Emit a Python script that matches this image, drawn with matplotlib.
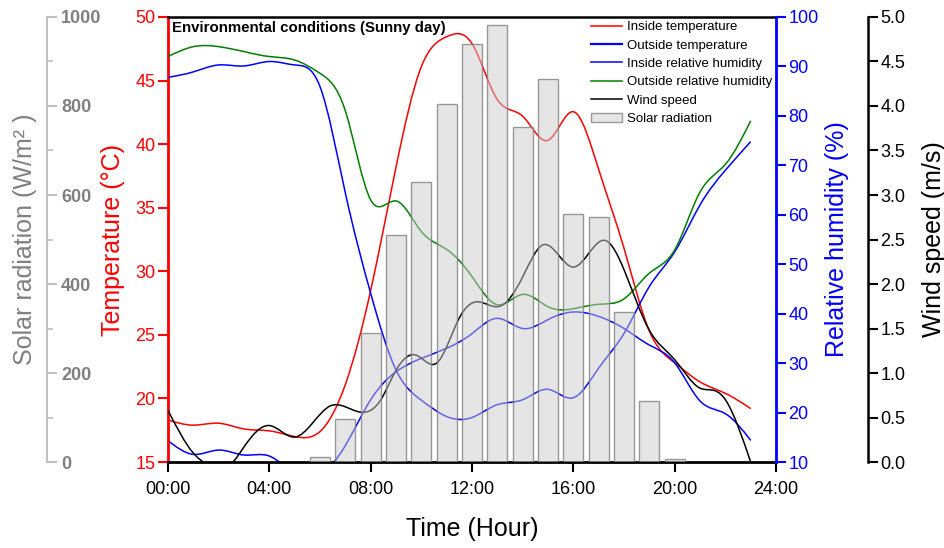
import matplotlib
matplotlib.use("Agg")
import matplotlib.pyplot as plt
import numpy as np
from matplotlib.path import Path
from matplotlib.patches import PathPatch, Patch
from matplotlib.lines import Line2D
from matplotlib.ticker import MultipleLocator, FormatStrFormatter

plt.rcParams['font.family'] = ['Liberation Sans', 'DejaVu Sans']

# hourly readings, 00:00 .. 23:00
hours = list(range(24))
inside_temp = [18.3, 17.9, 18.05, 17.6, 17.45, 17.0, 17.4, 21.1, 28.5, 38.2, 46.1, 48.45,
               47.9, 43.5, 42.2, 40.3, 42.55, 38.0, 31.8, 25.3, 22.8, 21.3, 20.4, 19.2]
outside_temp = [16.68, 15.6, 15.94, 15.55, 15.47, 14.1, 14.0, 16.3, 19.9, 22.1, 23.15, 23.95,
                25.1, 26.3, 25.5, 26.2, 26.8, 26.45, 25.5, 24.2, 22.8, 19.8, 18.8, 16.7]
inside_rh = [87.8, 88.9, 90.3, 90.1, 91.0, 90.3, 85.9, 64.4, 44.1, 28.6, 22.5, 19.2,
             19.0, 21.6, 22.6, 24.7, 23.0, 29.0, 36.0, 45.5, 52.5, 62.0, 69.0, 74.8]
outside_rh = [92.0, 94.0, 94.0, 93.0, 92.0, 91.3, 88.6, 81.0, 63.0, 62.8, 56.6, 53.0,
              47.5, 41.8, 43.9, 41.4, 41.0, 41.9, 43.0, 48.2, 52.9, 64.6, 70.2, 79.0]

# wind speed readings (irregular times)
wind_hours = [0, 1, 1.5, 2.5, 3, 4, 5, 6.4, 7.6, 8.4, 9, 9.8, 10.6, 11.5, 12.2, 13.1,
              14, 14.8, 16, 17.25, 18, 19, 20, 21, 21.6, 22, 22.5, 23]
wind_speed = [0.58, 0.10, -0.02, -0.02, 0.17, 0.41, 0.28, 0.63, 0.56, 0.70, 1.03, 1.20,
              1.11, 1.62, 1.80, 1.75, 2.08, 2.44, 2.19, 2.49, 2.16, 1.48, 1.15, 0.83,
              0.80, 0.70, 0.40, 0.0]

# solar radiation bars
solar_hours = [6, 7, 8, 9, 10, 11, 12, 13, 14, 15, 16, 17, 18, 19, 20]
solar_rad = [12, 96, 289, 510, 630, 804, 939, 983, 752, 861, 558, 551, 336, 138, 7]

xtick_vals = [0, 4, 8, 12, 16, 20, 24]
xtick_labels = ["00:00", "04:00", "08:00", "12:00", "16:00", "20:00", "24:00"]


def smooth_line(ax, x, y, color, lw=1.1):
    # natural cubic spline drawn as bezier curves through the data points
    x = np.asarray(x, float)
    y = np.asarray(y, float)
    n = len(x)
    h = np.diff(x)
    A = np.zeros((n, n))
    r = np.zeros(n)
    A[0, 0] = A[-1, -1] = 1
    for i in range(1, n - 1):
        A[i, i - 1] = h[i - 1]
        A[i, i] = 2 * (h[i - 1] + h[i])
        A[i, i + 1] = h[i]
        r[i] = 6 * ((y[i + 1] - y[i]) / h[i] - (y[i] - y[i - 1]) / h[i - 1])
    M = np.linalg.solve(A, r)
    m = np.zeros(n)
    m[:-1] = np.diff(y) / h - h * (2 * M[:-1] + M[1:]) / 6
    m[-1] = (y[-1] - y[-2]) / h[-1] + h[-1] * (M[-2] + 2 * M[-1]) / 6
    verts = [(x[0], y[0])]
    codes = [Path.MOVETO]
    for i in range(n - 1):
        verts += [(x[i] + h[i] / 3, y[i] + m[i] * h[i] / 3),
                  (x[i + 1] - h[i] / 3, y[i + 1] - m[i + 1] * h[i] / 3),
                  (x[i + 1], y[i + 1])]
        codes += [Path.CURVE4] * 3
    ax.add_patch(PathPatch(Path(verts, codes), fill=False, edgecolor=color, lw=lw))


fig = plt.figure(figsize=(9.45, 5.48), dpi=100)
ax = fig.add_axes([0.1778, 0.1569, 0.6434, 0.8121])
ax_rh = ax.twinx()
ax_w = ax.twinx()
ax_s = ax.twinx()

red, blue, green, gray = '#FF0000', '#0000FF', '#008000', '#808080'
tlen = 7

# temperature axis
smooth_line(ax, hours, inside_temp, red)
smooth_line(ax, hours, outside_temp, blue)
ax.set_xlim(0, 24)
ax.set_ylim(15, 50)
ax.set_xticks(xtick_vals)
ax.set_xticklabels(xtick_labels)
ax.set_yticks(range(15, 51, 5))
ax.tick_params(axis='x', direction='out', length=tlen, width=1.5, labelsize=13, pad=7)
ax.tick_params(axis='y', direction='out', length=tlen, width=1.5, labelsize=13,
               colors=red, pad=2)
ax.spines['left'].set_color(red)
ax.spines['left'].set_linewidth(2)
ax.spines['bottom'].set_linewidth(2)
ax.spines['top'].set_linewidth(1.8)
ax.spines['right'].set_visible(False)
ax.set_ylabel("Temperature (°C)", color=red, fontsize=18)
ax.yaxis.set_label_coords(-0.09, 0.5)
ax.yaxis.label.set_va('center')
ax.set_xlabel("Time (Hour)", fontsize=18)
ax.xaxis.set_label_coords(0.5, -0.15)
ax.xaxis.label.set_va('center')
ax.text(0.007, 0.99, "Environmental conditions (Sunny day)", transform=ax.transAxes,
        fontsize=10.8, fontweight='bold', va='top', ha='left')

# humidity axis
smooth_line(ax_rh, hours, inside_rh, blue)
smooth_line(ax_rh, hours, outside_rh, green)
ax_rh.set_ylim(10, 100)
ax_rh.set_yticks(range(10, 101, 10))
ax_rh.tick_params(axis='y', direction='out', length=tlen, width=1.5, labelsize=13,
                  colors=blue, pad=2)
ax_rh.spines['right'].set_color(blue)
ax_rh.spines['right'].set_linewidth(2)
for s in ['left', 'top', 'bottom']:
    ax_rh.spines[s].set_visible(False)
ax_rh.set_ylabel("Relative humidity (%)", color=blue, fontsize=18)
ax_rh.yaxis.set_label_coords(1.100, 0.5)
ax_rh.yaxis.label.set_va('center')

# wind axis
smooth_line(ax_w, wind_hours, wind_speed, 'black')
ax_w.set_ylim(0, 5)
ax_w.yaxis.set_major_locator(MultipleLocator(0.5))
ax_w.yaxis.set_major_formatter(FormatStrFormatter('%.1f'))
ax_w.spines['right'].set_position(('axes', 1.151))
ax_w.spines['right'].set_linewidth(1.8)
for s in ['left', 'top', 'bottom']:
    ax_w.spines[s].set_visible(False)
ax_w.tick_params(axis='y', direction='out', length=tlen, width=1.5, labelsize=13, pad=2)
ax_w.set_ylabel("Wind speed (m/s)", fontsize=18)
ax_w.yaxis.set_label_coords(1.26, 0.5)
ax_w.yaxis.label.set_va('center')

# solar axis (spine moved to the far left, ticks/labels to its right)
ax_s.bar(solar_hours, solar_rad, width=0.8, facecolor=(0.8, 0.8, 0.8, 0.5),
         edgecolor=(0.5, 0.5, 0.5, 0.8), linewidth=1)
ax_s.set_ylim(0, 1000)
ax_s.yaxis.set_major_locator(MultipleLocator(200))
ax_s.yaxis.set_minor_locator(MultipleLocator(100))
ax_s.spines['right'].set_position(('axes', -0.199))
ax_s.spines['right'].set_color('#C0C0C0')
ax_s.spines['right'].set_linewidth(1.5)
for s in ['left', 'top', 'bottom']:
    ax_s.spines[s].set_visible(False)
ax_s.tick_params(axis='y', which='major', direction='out', length=tlen, width=1.5,
                 labelsize=13, colors='#C0C0C0', labelcolor=gray, pad=3)
ax_s.tick_params(axis='y', which='minor', direction='out', length=4, width=1.2,
                 colors='#C0C0C0')
for lbl in ax_s.get_yticklabels():
    lbl.set_fontweight('bold')
ax_s.set_ylabel("Solar radiation (W/m² )", color=gray, fontsize=18)
ax_s.yaxis.set_label_coords(-0.235, 0.5)
ax_s.yaxis.label.set_va('center')

handles = [Line2D([], [], color=red, lw=1.1),
           Line2D([], [], color=blue, lw=1.6),
           Line2D([], [], color=blue, lw=1.1),
           Line2D([], [], color=green, lw=1.1),
           Line2D([], [], color='black', lw=1.1),
           Patch(facecolor='#E6E6E6', edgecolor='#999999')]
labels = ["Inside temperature", "Outside temperature", "Inside relative humidity",
          "Outside relative humidity", "Wind speed", "Solar radiation"]
ax_s.legend(handles, labels, loc='upper right', bbox_to_anchor=(1.0, 1.0),
            frameon=False, fontsize=9.5, handlelength=2.3, handletextpad=0.4,
            labelspacing=0.47, borderaxespad=0.2, borderpad=0.1)

fig.savefig("out.png", dpi=100)
